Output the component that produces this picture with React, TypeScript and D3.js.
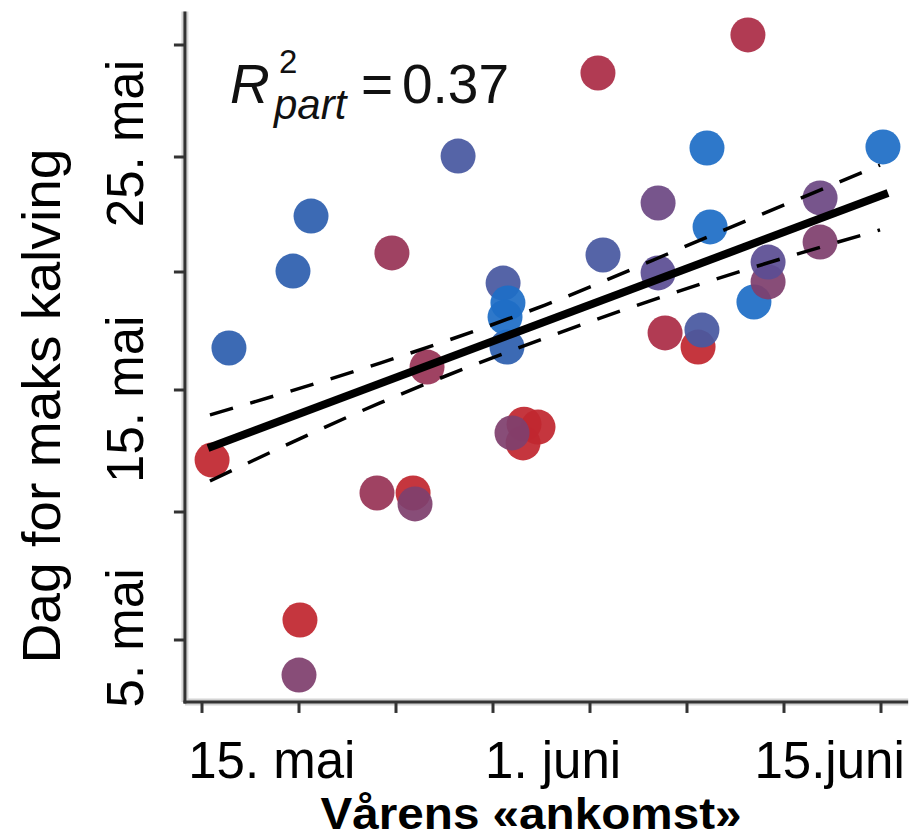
import React from "react";
import * as d3 from "d3";

// ---- data (x: day of year for spring arrival, y: day of May for peak calving)
const arrivalDay = [
  131.39, 134.69, 135.62, 143.2, 139.79, 130.52, 135.05, 135.0, 139.02, 140.88,
  140.98, 141.6, 145.52, 145.72, 145.62, 145.77, 146.55, 146.6, 147.32, 145.98,
  150.41, 150.67, 153.51, 153.51, 153.87, 155.57, 155.77, 156.03, 156.19, 158.14,
  158.45, 159.18, 159.18, 161.86, 161.86, 165.1,
];
const calvingDay = [
  16.78, 20.04, 22.43, 25.04, 20.83, 12.13, 5.78, 3.63, 10.78, 10.78,
  10.33, 15.97, 19.53, 16.82, 18.09, 18.69, 12.83, 13.6, 13.48, 13.24,
  28.75, 20.74, 23.0, 19.96, 17.42, 16.82, 17.54, 25.4, 21.96, 30.45,
  18.73, 19.58, 20.43, 23.22, 21.3, 25.45,
];
const colorGroup = [
  "B", "B", "B", "C", "G", "I", "I", "F", "G", "I",
  "F", "G", "C", "B", "A", "A", "I", "I", "I", "F",
  "H", "C", "E", "D", "H", "I", "C", "A", "A", "H",
  "A", "F", "D", "E", "F", "A",
];
const palette: Record<string, string> = {
  A: "#1e6ec6",
  B: "#2d5fae",
  C: "#4858a0",
  D: "#5b4d93",
  E: "#6d4883",
  F: "#7f406e",
  G: "#983456",
  H: "#ab2c46",
  I: "#c1272f",
};

// regression fit (endpoints) and confidence band
const fitX = [130.31, 165.36];
const fitY = [12.62, 23.43];
const ciX = [130.41, 139.18, 147.68, 156.19, 164.95];
const ciUpper = [13.98, 16.14, 18.6, 21.57, 24.65];
const ciLower = [11.27, 14.47, 17.2, 19.62, 21.83];

// axes
const xTicks = [130, 135, 140, 145, 150, 155, 160, 165];
const yTicks = [5, 10, 15, 20, 25, 30];
const xLabels = ["15. mai", "1. juni", "15.juni"];
const xLabelPos = [133.6, 148.1, 162.35];
const yLabels = ["25. mai", "15. mai", "5. mai"];
const yLabelPos = [25.6, 14.62, 5.08];
const xDomain = [129.12, 166.4];
const yDomain = [2.58, 31.5];

const W = 921;
const H = 840;
const FONT = "'Liberation Sans', Arial, Helvetica, sans-serif";

export default function App() {
  const x = d3.scaleLinear().domain([130, 165]).range([202, 881]);
  const y = d3
    .scaleLinear()
    .domain([5, 10, 15, 20, 25, 30])
    .range([640, 512, 390, 272, 157, 45]);

  const x0 = x(xDomain[0]);
  const x1 = x(xDomain[1]);
  const yBottom = y(yDomain[0]);
  const yTop = y(yDomain[1]);

  const ciLine = d3
    .line<number>()
    .x((_, i) => x(ciX[i]))
    .curve(d3.curveMonotoneX);
  const upperPath = ciLine.y((v) => y(v))(ciUpper) || "";
  const lowerPath = ciLine.y((v) => y(v))(ciLower) || "";

  const points = arrivalDay.map((d, i) => ({
    cx: x(d),
    cy: y(calvingDay[i]),
    fill: palette[colorGroup[i]],
  }));

  return (
    <svg
      width={W}
      height={H}
      style={{ position: "absolute", left: 0, top: 0, background: "#fff" }}
      fontFamily={FONT}
    >
      <rect width={W} height={H} fill="#fff" />
      {/* axes with soft halo */}
      <g stroke="#d4d4d4" strokeWidth={7} fill="none">
        <line x1={x0} y1={yTop} x2={x0} y2={yBottom} />
        <line x1={x0} y1={yBottom} x2={x1} y2={yBottom} />
      </g>
      <g stroke="#333" strokeWidth={3} fill="none">
        <line x1={x0} y1={yTop} x2={x0} y2={yBottom + 1.5} />
        <line x1={x0 - 1.5} y1={yBottom} x2={x1} y2={yBottom} />
        {yTicks.map((t) => (
          <line key={"yt" + t} x1={x0 - 11} x2={x0} y1={y(t)} y2={y(t)} />
        ))}
        {xTicks.map((t) => (
          <line key={"xt" + t} x1={x(t)} x2={x(t)} y1={yBottom} y2={yBottom + 11} />
        ))}
      </g>

      {/* points */}
      <g>
        {points.map((p, i) => (
          <circle key={i} cx={p.cx} cy={p.cy} r={17.5} fill={p.fill} fillOpacity={0.93} />
        ))}
      </g>

      {/* fit + CI */}
      <line
        x1={x(fitX[0])}
        y1={y(fitY[0])}
        x2={x(fitX[1])}
        y2={y(fitY[1])}
        stroke="#000"
        strokeWidth={8}
      />
      <path d={upperPath} fill="none" stroke="#000" strokeWidth={3.5} strokeDasharray="24 18" />
      <path d={lowerPath} fill="none" stroke="#000" strokeWidth={3.5} strokeDasharray="24 18" />

      {/* tick labels */}
      {xLabels.map((l, i) => (
        <text key={l} x={x(xLabelPos[i])} y={778} fontSize={51} textAnchor="middle" fill="#000">
          {l}
        </text>
      ))}
      {yLabels.map((l, i) => (
        <text
          key={l}
          transform={`translate(143,${y(yLabelPos[i])}) rotate(-90)`}
          fontSize={51}
          textAnchor="middle"
          fill="#000"
        >
          {l}
        </text>
      ))}

      {/* axis titles */}
      <text
        x={531}
        y={829}
        fontSize={45}
        fontWeight="bold"
        textAnchor="middle"
        textLength={421}
        lengthAdjust="spacingAndGlyphs"
        fill="#000"
      >
        Vårens «ankomst»
      </text>
      <text
        transform="translate(60,406) rotate(-90)"
        fontSize={53}
        textAnchor="middle"
        textLength={515}
        lengthAdjust="spacingAndGlyphs"
        fill="#000"
      >
        Dag for maks kalving
      </text>

      {/* R² annotation */}
      <g fill="#111">
        <text x={230} y={103} fontSize={55} fontStyle="italic">R</text>
        <text x={279} y={73} fontSize={33}>2</text>
        <text x={274} y={119} fontSize={42} fontStyle="italic">part</text>
        <text x={361} y={103} fontSize={55}>=</text>
        <text x={402} y={103} fontSize={55}>0.37</text>
      </g>
    </svg>
  );
}
